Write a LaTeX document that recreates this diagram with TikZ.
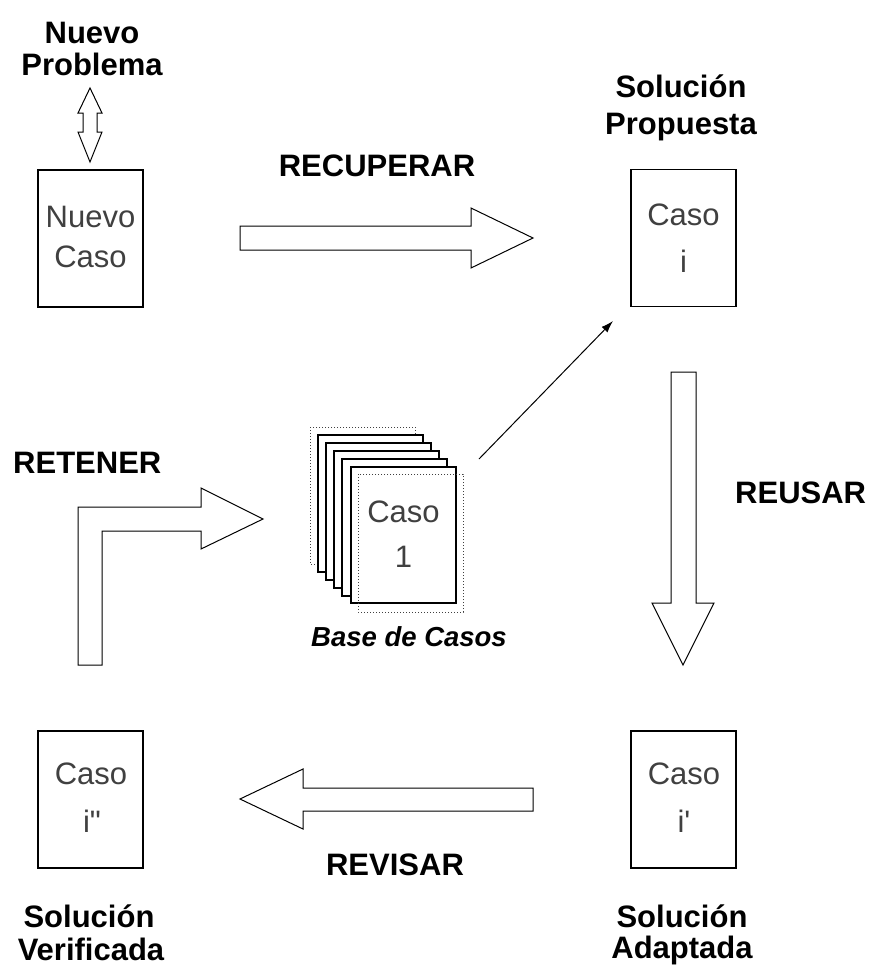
\documentclass[tikz,border=0pt]{standalone}
\usepackage{fontspec}
\setmainfont{Liberation Sans}
% plain family without TeX ligatures, so ' and " stay straight
\newfontfamily\casefont{Liberation Sans}
\usetikzlibrary{arrows.meta}
\begin{document}
\begin{tikzpicture}[x=1pt,y=-1pt,
  casebox/.style={draw, line width=1.3pt, minimum width=105pt, minimum height=137pt, inner sep=0pt},
  boxtext/.style={font=\casefont\fontsize{31}{36}\selectfont, text=black!75, anchor=base, inner sep=0pt},
  tag/.style={font=\fontsize{31}{36}\selectfont\bfseries, anchor=base, inner sep=0pt},
  blockarrow/.style={draw, line width=1pt, fill=white, line join=miter},
  stackpage/.style={draw, line width=1.5pt, fill=white},
  stackghost/.style={draw=black!75, line width=1pt, dotted},
]
\useasboundingbox (0,0) rectangle (873,970);

% ---- Nuevo Problema / Nuevo Caso ----
\node[tag] (np1) at (92,43) {Nuevo};
\node[tag] (np2) at (92,75) {Problema};
\draw[blockarrow] (90,88) -- (102,113) -- (97,113) -- (97,132) -- (102,132)
  -- (90,162) -- (78,132) -- (83,132) -- (83,113) -- (78,113) -- cycle;
\node[casebox] (nuevo) at (90.5,238.5) {};
\node[boxtext] (nuevoA) at (90.5,227) {Nuevo};
\node[boxtext] (nuevoB) at (90.5,267) {Caso};

% ---- RECUPERAR ----
\node[tag] (recuperar) at (377,176) {RECUPERAR};
\draw[blockarrow] (240,226) -- (471,226) -- (471,208) -- (533,238)
  -- (471,268) -- (471,250) -- (240,250) -- cycle;

% ---- Solución Propuesta / Caso i ----
\node[tag] (sp1) at (681,97) {Solución};
\node[tag] (sp2) at (681,134) {Propuesta};
\node[casebox] (casoi) at (683.5,238) {};
\node[boxtext] (casoiA) at (683.5,225) {Caso};
\node[boxtext] (casoiB) at (683.5,272) {i};

% ---- Base de Casos (stack of cases) ----
\draw[stackghost] (310,427) rectangle ++(105,137);
\foreach \k in {1,...,4}
  \draw[stackpage] ({310+8*\k},{427+8*\k}) rectangle ++(105,137);
\node[casebox, stackpage, minimum height=136pt] (base) at (403.5,535) {};
\draw[stackghost] (358,474) rectangle ++(105,138);
\node[boxtext] (baseA) at (403.5,522) {Caso};
\node[boxtext] (baseB) at (403.5,567) {1};
\node[tag, font=\fontsize{27.5}{32}\selectfont\bfseries\itshape] (basetag) at (409,646) {Base de Casos};

% thin arrow from the case base to the proposed solution
\coordinate (thinA) at (479,459);
\coordinate (thinB) at (613,321);
\draw[line width=1pt, -{Latex[length=12pt,width=8pt]}] (thinA) -- (thinB);

% ---- RETENER ----
\node[tag, anchor=base west] (retener) at (13,473) {RETENER};
\draw[blockarrow] (78,665) -- (78,507) -- (201,507) -- (201,488) -- (263,519)
  -- (201,549) -- (201,531) -- (102,531) -- (102,665) -- cycle;

% ---- REUSAR ----
\node[tag, anchor=base west] (reusar) at (735,503) {REUSAR};
\draw[blockarrow] (671,372) -- (696,372) -- (696,603) -- (714,603) -- (683,665)
  -- (652,603) -- (671,603) -- cycle;

% ---- Solución Adaptada / Caso i' ----
\node[casebox] (casoip) at (683.5,799.5) {};
\node[boxtext] (casoipA) at (684,784) {Caso};
\node[boxtext] (casoipB) at (684,832) {i'};
\node[tag] (sa1) at (682,927) {Solución};
\node[tag] (sa2) at (682,958) {Adaptada};

% ---- REVISAR ----
\draw[blockarrow] (533,788) -- (303,788) -- (303,769) -- (240,799) -- (303,829)
  -- (303,811) -- (533,811) -- cycle;
\node[tag] (revisar) at (395,875) {REVISAR};

% ---- Solución Verificada / Caso i'' ----
\node[casebox] (casoipp) at (90.5,799.5) {};
\node[boxtext] (casoippA) at (91,784) {Caso};
\node[boxtext] (casoippB) at (92,832) {i"};
\node[tag] (sv1) at (89,927) {Solución};
\node[tag] (sv2) at (91,960) {Verificada};
\end{tikzpicture}
\end{document}
